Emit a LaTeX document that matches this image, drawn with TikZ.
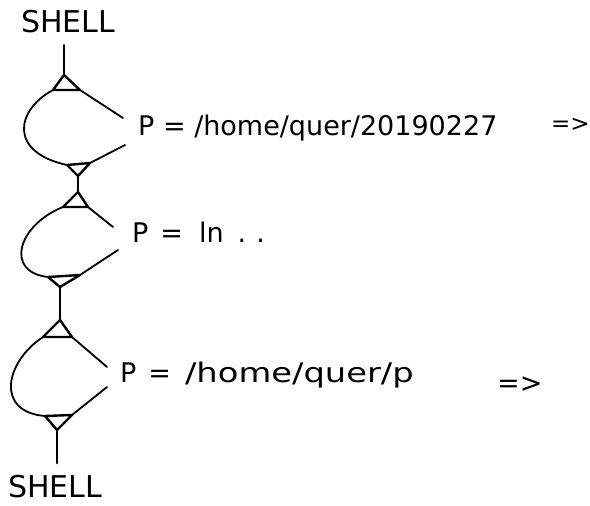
\documentclass[tikz,border=0pt]{standalone}
\usepackage{fontspec}
\setmainfont{DejaVu Sans}
\begin{document}
\begin{tikzpicture}[x=1pt,y=-1pt,
  wire/.style={line width=1.8pt,line cap=round,line join=round},
  tri/.style={line width=2.4pt,line join=round},
  label/.style={anchor=base west,inner sep=0pt,font=\fontsize{27}{30}\selectfont},
  shell/.style={inner sep=0pt,font=\fontsize{30}{33}\selectfont}]
\useasboundingbox[fill=white] (0,0) rectangle (590,506);

% top shell
\node[shell] (shtop) at (68,22) {SHELL};
\coordinate (s0) at (64,45);

% ---- first loop ----
\coordinate (a1) at (64,75);
\coordinate (a1l) at (53,90);
\coordinate (a1r) at (80,90);
\coordinate (r1) at (123,118);
\coordinate (q1) at (125,145);
\coordinate (b1l) at (67,165);
\coordinate (b1r) at (90,163);
\coordinate (b1) at (78,176);
\draw[wire] (s0) -- (a1);
\draw[tri] (a1) -- (a1l) -- (a1r) -- cycle;
\draw[wire] (a1r) -- (r1);
\draw[wire] (a1l) .. controls (16,110) and (8,152) .. (b1l);
\draw[tri] (b1l) -- (b1r) -- (b1) -- cycle;
\draw[wire] (q1) -- (b1r);

% ---- second loop ----
\coordinate (a2) at (78,192);
\coordinate (a2l) at (63,207);
\coordinate (a2r) at (88,207);
\coordinate (r2) at (113,227);
\coordinate (q2) at (118,250);
\coordinate (b2l) at (48,277);
\coordinate (b2r) at (80,275);
\coordinate (b2) at (60,287);
\draw[wire] (b1) -- (a2);
\draw[tri] (a2) -- (a2l) -- (a2r) -- cycle;
\draw[wire] (a2r) -- (r2);
\draw[wire] (a2l) .. controls (18,225) and (4,272) .. (b2l);
\draw[tri] (b2l) -- (b2r) -- (b2) -- cycle;
\draw[wire] (q2) -- (b2r);

% ---- third loop ----
\coordinate (a3) at (60,320);
\coordinate (a3l) at (43,337);
\coordinate (a3r) at (72,337);
\coordinate (r3) at (107,367);
\coordinate (q3) at (107,387);
\coordinate (b3l) at (45,416);
\coordinate (b3r) at (72,415);
\coordinate (b3) at (57,430);
\draw[wire] (b2) -- (a3);
\draw[tri] (a3) -- (a3l) -- (a3r) -- cycle;
\draw[wire] (a3r) -- (r3);
\draw[wire] (a3l) .. controls (5,362) and (-5,412) .. (b3l);
\draw[tri] (b3l) -- (b3r) -- (b3) -- cycle;
\draw[wire] (q3) -- (b3r);

% bottom shell
\coordinate (s1) at (57,463);
\draw[wire, line width=2.6pt] (b3) -- (s1);
\node[shell] (shbot) at (55,487) {SHELL};

% path labels
\node[label] (p1) at (138,135) {P = /home/quer/20190227};
\node[label, font=\fontsize{23}{26}\selectfont] (go1) at (551,131) {=>};
\node[label] (p2) at (132,242)
  {P\hspace{12pt}=\hspace{16pt}ln\hspace{14pt}.\hspace{10pt}.};
\node[label] (p3) at (120,382)
  {P\hspace{12pt}=\hspace{14pt}{\addfontfeatures{FakeStretch=1.25}/home/quer/p}};
\node[label] (go3) at (497,392) {=>};
\end{tikzpicture}
\end{document}
